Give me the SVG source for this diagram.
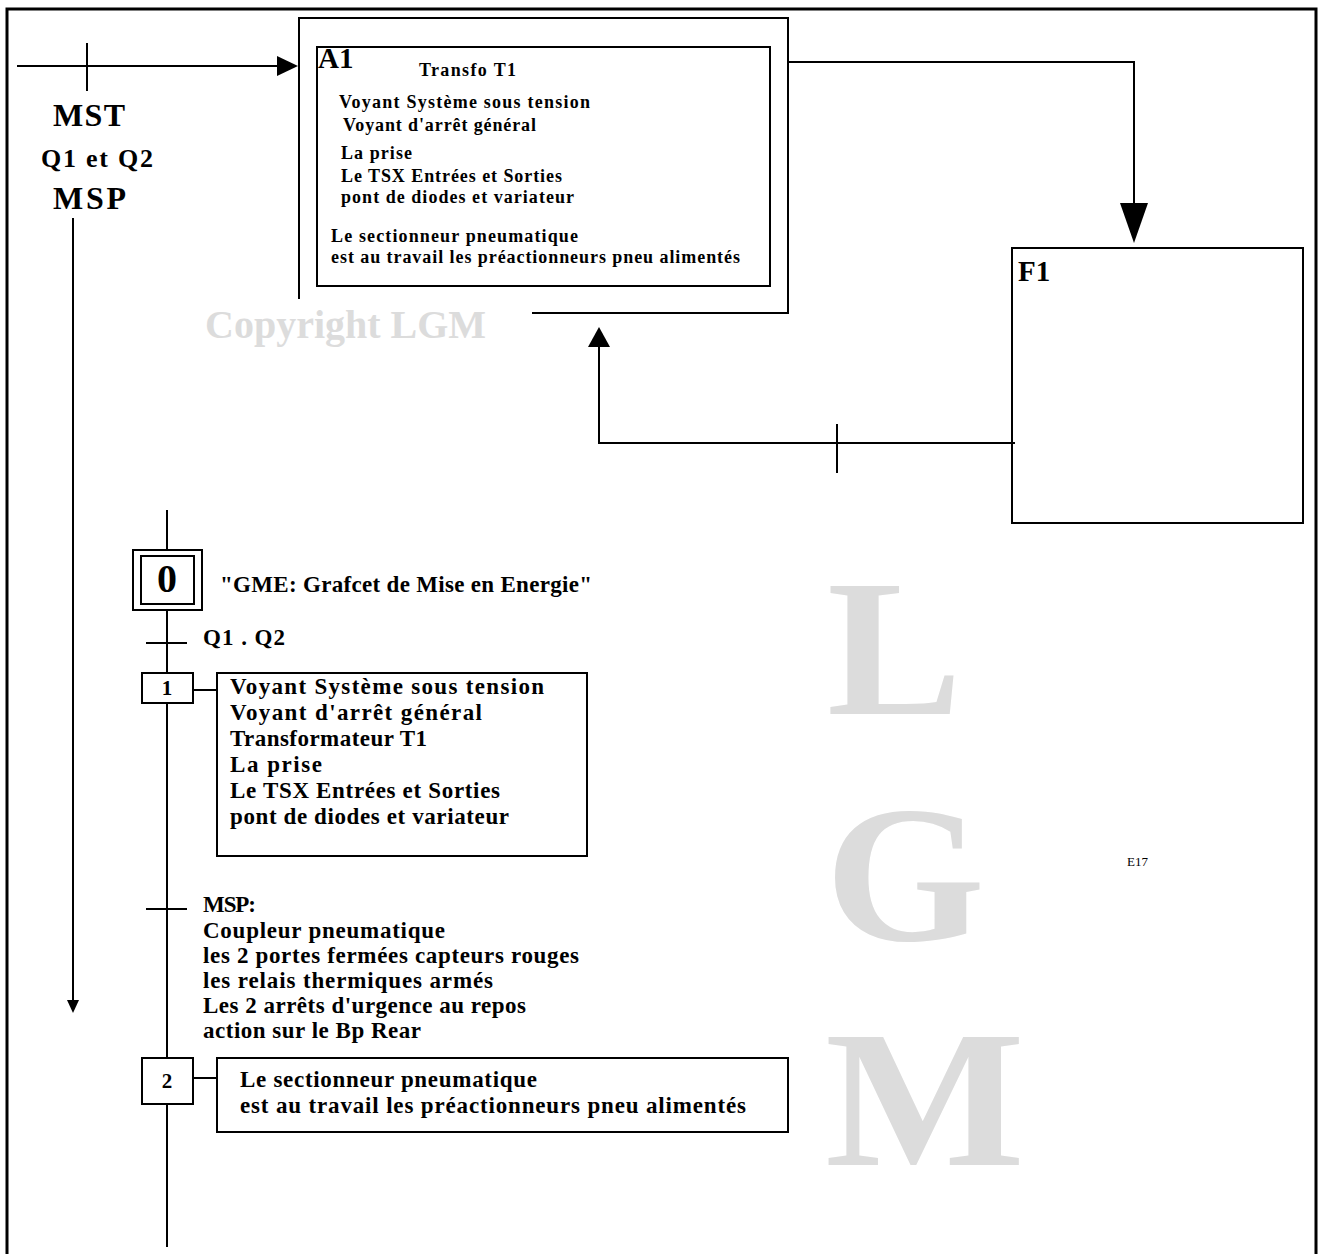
<svg xmlns="http://www.w3.org/2000/svg" width="1322" height="1254" viewBox="0 0 1322 1254">
<style>
.t{font-family:"Liberation Serif","Times New Roman",serif;font-weight:bold;fill:#000}
.w{font-family:"Liberation Serif","Times New Roman",serif;font-weight:bold;fill:#dcdcdc}
.ln{fill:none;stroke:#000;stroke-width:2}
.bx{fill:none;stroke:#000;stroke-width:2}
.ah{fill:#000;stroke:none}
</style>
<rect width="1322" height="1254" fill="#fff"/>
<path d="M7,1254 V9 H1316 V1254" fill="none" stroke="#000" stroke-width="3"/>

<g id="watermark">
<text class="w" x="205" y="338" font-size="40" fill="#d8d8d8">Copyright LGM</text>
<text class="w" x="827" y="714" font-size="194" textLength="135" lengthAdjust="spacingAndGlyphs">L</text>
<text class="w" x="825" y="940" font-size="194" textLength="160" lengthAdjust="spacingAndGlyphs">G</text>
<text class="w" x="825" y="1165" font-size="194" textLength="200" lengthAdjust="spacingAndGlyphs">M</text>
</g>
<text x="1127" y="866" font-family="Liberation Serif, serif" font-size="13">E17</text>

<g id="connectors">
<path class="ln" d="M17,66 H280"/>
<polygon class="ah" points="277,56 298,66 277,76"/>
<path class="ln" d="M87,43 V91"/>
<path class="ln" d="M73,218 V1004"/>
<polygon class="ah" points="67,1000 79,1000 73,1013"/>
<path class="ln" d="M788,62 H1134 V205"/>
<polygon class="ah" points="1120,203 1148,203 1134,243"/>
<path class="ln" d="M1015,443 H599 V345"/>
<polygon class="ah" points="588,347 610,347 599,327"/>
<path class="ln" d="M837,424 V473"/>
<path class="ln" d="M167,510 V550 M167,610 V673 M167,703 V1058 M167,1104 V1247"/>
<path class="ln" d="M146,643 H187 M146,909 H187"/>
<path class="ln" d="M193,690 H217 M193,1078 H217"/>
</g>

<g id="labels-left">
<text class="t" x="53" y="126" font-size="32" textLength="72" lengthAdjust="spacing">MST</text>
<text class="t" x="41" y="167" font-size="26" textLength="112" lengthAdjust="spacing">Q1 et Q2</text>
<text class="t" x="53" y="209" font-size="32" textLength="73" lengthAdjust="spacing">MSP</text>
</g>

<g id="A1">
<path class="bx" d="M299,299 V18 H788 V313 H532"/>
<rect class="bx" x="317" y="47" width="453" height="239"/>
<text class="t" x="318" y="68" font-size="29">A1</text>
<text class="t" x="419" y="76" font-size="18" textLength="97" lengthAdjust="spacing">Transfo T1</text>
<text class="t" x="339" y="108" font-size="18" textLength="251" lengthAdjust="spacing">Voyant Système sous  tension</text>
<text class="t" x="343" y="131" font-size="18" textLength="193" lengthAdjust="spacing">Voyant d'arrêt général</text>
<text class="t" x="341" y="159" font-size="18" textLength="71" lengthAdjust="spacing">La prise</text>
<text class="t" x="341" y="182" font-size="18" textLength="221" lengthAdjust="spacing">Le TSX Entrées et Sorties</text>
<text class="t" x="341" y="203" font-size="18" textLength="233" lengthAdjust="spacing">pont de diodes et variateur</text>
<text class="t" x="331" y="242" font-size="18" textLength="247" lengthAdjust="spacing">Le sectionneur pneumatique</text>
<text class="t" x="331" y="263" font-size="18" textLength="409" lengthAdjust="spacing">est au travail les préactionneurs pneu alimentés</text>
</g>

<g id="F1">
<rect class="bx" x="1012" y="248" width="291" height="275"/>
<text class="t" x="1018" y="281" font-size="29">F1</text>
</g>

<g id="step0">
<rect class="bx" x="133" y="550" width="69" height="60"/>
<rect class="bx" x="141" y="556" width="53" height="48"/>
<text class="t" x="167" y="592" font-size="40" text-anchor="middle">0</text>
<text class="t" x="220" y="592" font-size="23" textLength="372" lengthAdjust="spacing">"GME: Grafcet de Mise en Energie"</text>
</g>

<g id="t01">
<text class="t" x="203" y="645" font-size="23" textLength="82" lengthAdjust="spacing">Q1 . Q2</text>
</g>

<g id="step1">
<rect class="bx" x="142" y="673" width="51" height="30"/>
<text class="t" x="167" y="695" font-size="21" text-anchor="middle">1</text>
</g>
<g id="action1">
<rect class="bx" x="217" y="673" width="370" height="183"/>
<text class="t" x="230" y="694" font-size="23" textLength="314" lengthAdjust="spacing">Voyant  Système sous tension</text>
<text class="t" x="230" y="720" font-size="23" textLength="252" lengthAdjust="spacing">Voyant d'arrêt  général</text>
<text class="t" x="230" y="746" font-size="23" textLength="197" lengthAdjust="spacing">Transformateur T1</text>
<text class="t" x="230" y="772" font-size="23" textLength="92" lengthAdjust="spacing">La prise</text>
<text class="t" x="230" y="798" font-size="23" textLength="270" lengthAdjust="spacing">Le TSX Entrées et Sorties</text>
<text class="t" x="230" y="824" font-size="23" textLength="279" lengthAdjust="spacing">pont de diodes et variateur</text>
</g>

<g id="t12">
<text class="t" x="203" y="912" font-size="23" textLength="53" lengthAdjust="spacing">MSP:</text>
<text class="t" x="203" y="938" font-size="23" textLength="242" lengthAdjust="spacing">Coupleur pneumatique</text>
<text class="t" x="203" y="963" font-size="23" textLength="376" lengthAdjust="spacing">les 2 portes fermées capteurs rouges</text>
<text class="t" x="203" y="988" font-size="23" textLength="290" lengthAdjust="spacing">les relais thermiques armés</text>
<text class="t" x="203" y="1013" font-size="23" textLength="323" lengthAdjust="spacing">Les 2 arrêts d'urgence au repos</text>
<text class="t" x="203" y="1038" font-size="23" textLength="218" lengthAdjust="spacing">action sur le Bp Rear</text>
</g>

<g id="step2">
<rect class="bx" x="142" y="1058" width="51" height="46"/>
<text class="t" x="167" y="1088" font-size="21" text-anchor="middle">2</text>
</g>
<g id="action2">
<rect class="bx" x="217" y="1058" width="571" height="74"/>
<text class="t" x="240" y="1087" font-size="23" textLength="297" lengthAdjust="spacing">Le sectionneur pneumatique</text>
<text class="t" x="240" y="1113" font-size="23" textLength="506" lengthAdjust="spacing">est au travail les préactionneurs pneu alimentés</text>
</g>
</svg>
